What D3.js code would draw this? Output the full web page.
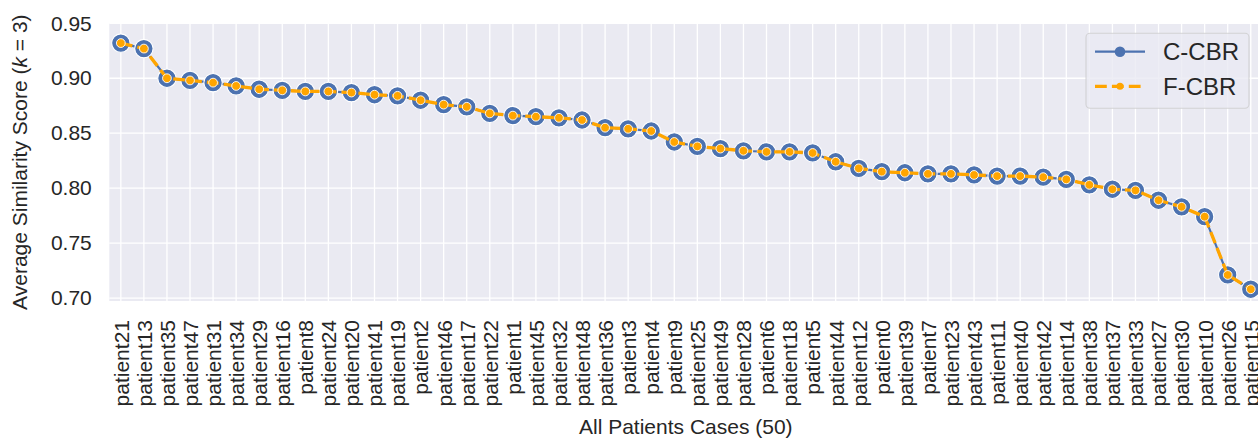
<!DOCTYPE html>
<html>
<head>
    <title>Average Similarity Score</title>
    <script src="https://d3js.org/d3.v7.min.js"></script>
    <style>
        body { margin: 0; background: #fff; }
        svg { font-family: "Liberation Sans", Arial, sans-serif; display: block; }
        .tick-label { font-size: 21px; fill: #262626; }
        .axis-title { font-size: 21px; fill: #262626; }
        .legend-label { font-size: 24px; fill: #262626; }
    </style>
</head>
<body>
<div id="chart"></div>
<script>
    // Dane
    const patients = ["patient21", "patient13", "patient35", "patient47", "patient31", "patient34",
        "patient29", "patient16", "patient8", "patient24", "patient20", "patient41", "patient19",
        "patient2", "patient46", "patient17", "patient22", "patient1", "patient45", "patient32",
        "patient48", "patient36", "patient3", "patient4", "patient9", "patient25", "patient49",
        "patient28", "patient6", "patient18", "patient5", "patient44", "patient12", "patient0",
        "patient39", "patient7", "patient23", "patient43", "patient11", "patient40", "patient42",
        "patient14", "patient38", "patient37", "patient33", "patient27", "patient30", "patient10",
        "patient26", "patient15"];

    const cCBR = [0.932, 0.927, 0.900, 0.898, 0.896, 0.893, 0.890, 0.889, 0.888, 0.888,
        0.887, 0.885, 0.884, 0.880, 0.876, 0.874, 0.868, 0.866, 0.865, 0.864,
        0.862, 0.855, 0.854, 0.852, 0.842, 0.838, 0.836, 0.834, 0.833, 0.833,
        0.832, 0.824, 0.818, 0.815, 0.814, 0.813, 0.813, 0.812, 0.811, 0.811,
        0.810, 0.808, 0.803, 0.799, 0.798, 0.789, 0.783, 0.774, 0.721, 0.708];

    const fCBR = [0.932, 0.927, 0.900, 0.898, 0.896, 0.893, 0.890, 0.889, 0.888, 0.888,
        0.887, 0.885, 0.884, 0.880, 0.876, 0.874, 0.868, 0.866, 0.865, 0.864,
        0.862, 0.855, 0.854, 0.852, 0.842, 0.838, 0.836, 0.834, 0.833, 0.833,
        0.832, 0.824, 0.818, 0.815, 0.814, 0.813, 0.813, 0.812, 0.811, 0.811,
        0.810, 0.808, 0.803, 0.799, 0.798, 0.789, 0.783, 0.774, 0.721, 0.708];

    const yTicks = [0.70, 0.75, 0.80, 0.85, 0.90, 0.95];

    // Ustawienia wykresu
    const W = 1258, H = 439;
    const plot = {left: 109.3, top: 23.3, bottom: 301, right: 109.3 + 50 * 23.06};

    const x = d3.scalePoint()
        .domain(patients)
        .range([plot.left, plot.right])
        .padding(0.5);
    const y = d3.scaleLinear()
        .domain([0.6973, 0.95])
        .range([plot.bottom, plot.top]);

    const svg = d3.select("#chart").append("svg")
        .attr("width", W)
        .attr("height", H);

    // Tło
    svg.append("rect")
        .attr("x", plot.left).attr("y", plot.top)
        .attr("width", plot.right - plot.left)
        .attr("height", plot.bottom - plot.top)
        .attr("fill", "#eaeaf2");

    // Siatka
    svg.append("g").selectAll("line")
        .data(yTicks)
        .join("line")
        .attr("x1", plot.left).attr("x2", plot.right)
        .attr("y1", d => y(d)).attr("y2", d => y(d))
        .attr("stroke", "#fff").attr("stroke-width", 1.3);
    svg.append("g").selectAll("line")
        .data(patients)
        .join("line")
        .attr("x1", d => x(d)).attr("x2", d => x(d))
        .attr("y1", plot.top).attr("y2", plot.bottom)
        .attr("stroke", "#fff").attr("stroke-width", 1.3);

    // Oś Y
    const yAxis = svg.append("g")
        .attr("transform", "translate(" + plot.left + ",0)")
        .call(d3.axisLeft(y).tickValues(yTicks).tickFormat(d3.format(".2f")).tickSize(0).tickPadding(17.5));
    yAxis.select(".domain").remove();
    yAxis.selectAll("text").attr("class", "tick-label").attr("fill", null).style("font-size", "21px");

    // Oś X
    const xAxis = svg.append("g")
        .attr("transform", "translate(0," + plot.bottom + ")")
        .call(d3.axisBottom(x).tickSize(0));
    xAxis.select(".domain").remove();
    xAxis.selectAll("text")
        .attr("class", "tick-label")
        .attr("fill", null)
        .style("font-size", "21px")
        .attr("text-anchor", "end")
        .attr("transform", "rotate(-90)")
        .attr("x", -19)
        .attr("y", 0)
        .attr("dy", "0.35em");

    // Tytuły osi
    svg.append("text")
        .attr("class", "axis-title")
        .attr("x", (plot.left + plot.right) / 2)
        .attr("y", 434)
        .attr("text-anchor", "middle")
        .text("All Patients Cases (50)");

    const yTitle = svg.append("text")
        .attr("class", "axis-title")
        .attr("transform", "translate(27," + (plot.top + plot.bottom) / 2 + ") rotate(-90)")
        .attr("text-anchor", "middle");
    yTitle.append("tspan").text("Average Similarity Score (");
    yTitle.append("tspan").attr("font-style", "italic").text("k");
    yTitle.append("tspan").text(" = 3)");

    // Linie
    const line = d3.line()
        .x((d, i) => x(patients[i]))
        .y(d => y(d));

    svg.append("path")
        .datum(cCBR)
        .attr("d", line)
        .attr("fill", "none")
        .attr("stroke", "#4c72b0")
        .attr("stroke-width", 2.2);
    svg.append("g").selectAll("circle")
        .data(cCBR)
        .join("circle")
        .attr("cx", (d, i) => x(patients[i]))
        .attr("cy", d => y(d))
        .attr("r", 9.2)
        .attr("fill", "#4c72b0")
        .attr("stroke", "#fff")
        .attr("stroke-width", 1.1);

    svg.append("path")
        .datum(fCBR)
        .attr("d", line)
        .attr("fill", "none")
        .attr("stroke", "orange")
        .attr("stroke-width", 3.3)
        .attr("stroke-dasharray", "11.8,5.1");
    svg.append("g").selectAll("circle")
        .data(fCBR)
        .join("circle")
        .attr("cx", (d, i) => x(patients[i]))
        .attr("cy", d => y(d))
        .attr("r", 4.4)
        .attr("fill", "orange")
        .attr("stroke", "#fff")
        .attr("stroke-width", 0.9);

    // Legenda
    const legend = svg.append("g");
    legend.append("rect")
        .attr("x", 1086).attr("y", 33.3)
        .attr("width", 163).attr("height", 75)
        .attr("rx", 4)
        .attr("fill", "#eaeaf2").attr("fill-opacity", 0.8)
        .attr("stroke", "#cccccc").attr("stroke-opacity", 0.8)
        .attr("stroke-width", 1.1);

    const items = [
        {name: "C-CBR", color: "#4c72b0", width: 2.2, dash: null, r: 5.3, y: 51.7},
        {name: "F-CBR", color: "orange", width: 3.3, dash: "11.8,5.1", r: 3.5, y: 86.3}
    ];
    items.forEach(it => {
        legend.append("line")
            .attr("x1", 1095).attr("x2", 1145)
            .attr("y1", it.y).attr("y2", it.y)
            .attr("stroke", it.color).attr("stroke-width", it.width)
            .attr("stroke-dasharray", it.dash);
        legend.append("circle")
            .attr("cx", 1120).attr("cy", it.y).attr("r", it.r)
            .attr("fill", it.color);
        legend.append("text")
            .attr("class", "legend-label")
            .attr("x", 1163).attr("y", it.y + 8.6)
            .text(it.name);
    });
</script>
</body>
</html>
